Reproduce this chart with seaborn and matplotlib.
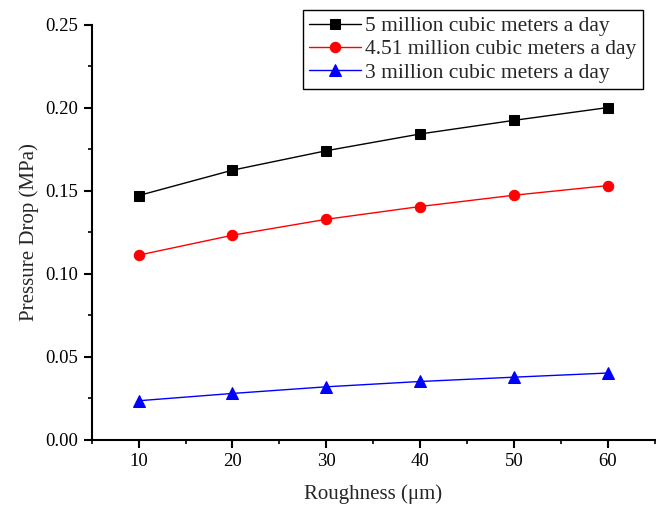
import matplotlib
matplotlib.use('Agg')

import matplotlib.pyplot as plt
import seaborn as sns
import pandas as pd
from matplotlib.ticker import MultipleLocator

# ================= DATA =================
roughness = [10, 20, 30, 40, 50, 60]
drop_5 = [0.1472, 0.1625, 0.1742, 0.1843, 0.1925, 0.2002]
drop_451 = [0.1113, 0.1233, 0.1329, 0.1406, 0.1474, 0.1532]
drop_3 = [0.0236, 0.0280, 0.0320, 0.0352, 0.0378, 0.0403]
labels = ["5 million cubic meters a day",
          "4.51 million cubic meters a day",
          "3 million cubic meters a day"]

# ================= STYLE =================
sns.set_theme(style="ticks")
plt.rcParams['font.family'] = ['Liberation Serif', 'DejaVu Serif']

fig = plt.figure(figsize=(6.6, 5.08), dpi=100)
ax = fig.add_axes([0.139, 0.134, 0.853, 0.817])

series = [(drop_5, "black", "s", 6.5), (drop_451, "red", "o", 7.5), (drop_3, "blue", "^", 8.5)]
for (vals, color, mk, ms), lab in zip(series, labels):
    df = pd.DataFrame({"x": roughness, "y": vals})
    sns.lineplot(data=df, x="x", y="y", ax=ax, color=color, marker=mk,
                 markersize=ms, markeredgecolor=color, linewidth=1, label=lab)

ax.set_xlim(5, 65)
ax.set_ylim(0, 0.25)
ax.xaxis.set_major_locator(MultipleLocator(10))
ax.xaxis.set_minor_locator(MultipleLocator(5))
ax.yaxis.set_major_locator(MultipleLocator(0.05))
ax.yaxis.set_minor_locator(MultipleLocator(0.025))
ax.yaxis.set_major_formatter(matplotlib.ticker.FormatStrFormatter('%.2f'))
ax.set_xticks([10, 20, 30, 40, 50, 60])

sns.despine(ax=ax)
for s in ['left', 'bottom']:
    ax.spines[s].set_linewidth(1.5)
    ax.spines[s].set_color('black')
ax.tick_params(which='major', direction='out', length=6, width=1.5, labelsize=13.5, colors='black')
ax.tick_params(which='minor', direction='out', length=3, width=1.2, colors='black')

ax.set_xlabel("Roughness (μm)", fontsize=15, labelpad=10)
ax.set_ylabel("Pressure Drop (MPa)", fontsize=15, labelpad=5)

leg = ax.legend(loc='upper right', bbox_to_anchor=(0.998, 1.063), fontsize=15.5,
                frameon=True, fancybox=False, edgecolor='black', framealpha=1,
                handlelength=2.4, borderpad=0.3, labelspacing=0.15, handletextpad=0.2)
leg.get_frame().set_linewidth(1)

plt.savefig("out.png", dpi=100)
plt.close()
